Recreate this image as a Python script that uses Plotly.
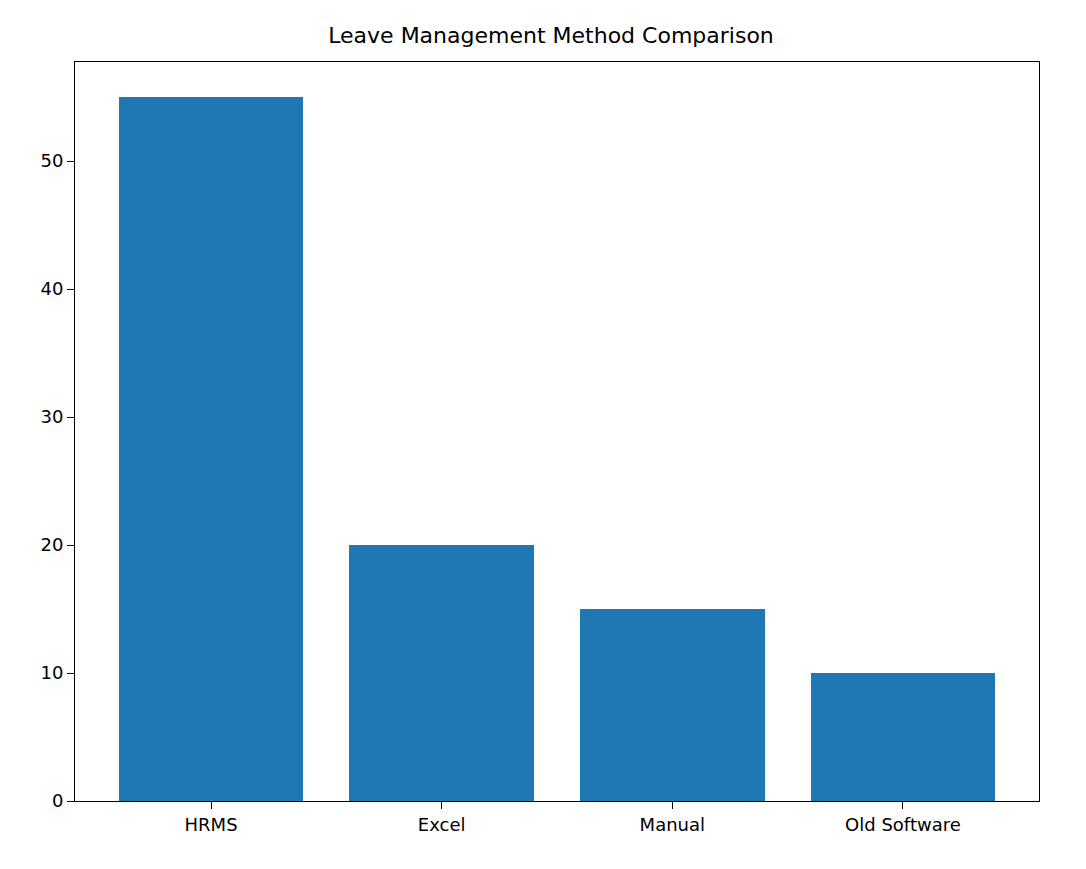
import plotly.graph_objects as go

categories = ["HRMS", "Excel", "Manual", "Old Software"]
values = [55, 20, 15, 10]
yticks = [0, 10, 20, 30, 40, 50]

fig = go.Figure(go.Bar(x=list(range(len(categories))), y=values, width=0.8,
                       marker=dict(color="#1f77b4", line=dict(width=0))))
fig.update_layout(
    width=1086, height=869, paper_bgcolor="white", plot_bgcolor="white",
    margin=dict(l=67, r=55, t=54, b=76),
    font=dict(family="DejaVu Sans", size=18, color="black"),
    title=dict(text="Leave Management Method Comparison", x=0.5, xanchor="center",
               y=1 - 27/869, yanchor="middle", font=dict(size=22)),
    showlegend=False, bargap=0,
)
fig.update_xaxes(range=[-0.59, 3.59], tickvals=list(range(len(categories))), ticktext=categories,
                 showgrid=False, zeroline=False, showline=True, linecolor="black", mirror=True,
                 ticks="outside", ticklen=7, tickcolor="black")
fig.update_yaxes(range=[0, 57.75], tickvals=yticks, showgrid=False, zeroline=False,
                 showline=True, linecolor="black", mirror=True,
                 ticks="outside", ticklen=7, tickcolor="black")
fig.write_html("out.html")
